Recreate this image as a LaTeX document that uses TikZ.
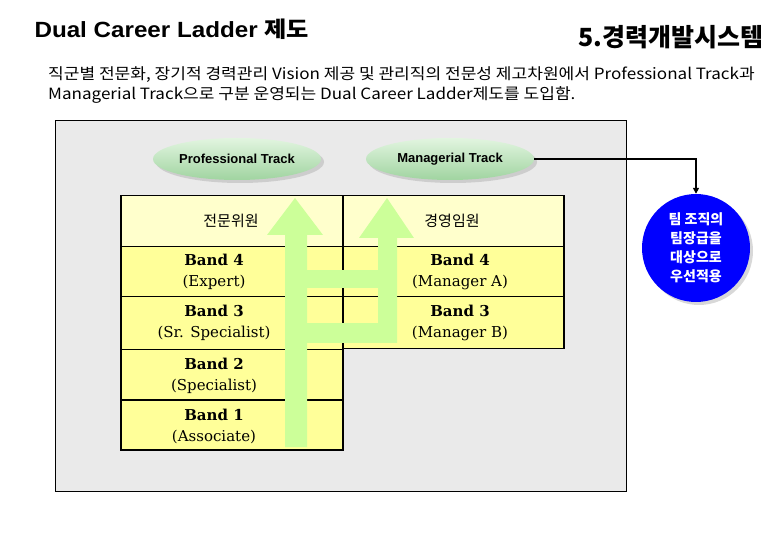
\documentclass[tikz,border=0pt]{standalone}
\usepackage{fontspec}
\setmainfont{DejaVu Serif}
\setsansfont{Liberation Sans}
\newfontfamily\kr{Noto Sans CJK KR}
\newfontfamily\krlarge[FakeStretch=1.1]{Noto Sans CJK KR}
\newfontfamily\titrefont[FakeStretch=1.1]{Liberation Sans}
\usetikzlibrary{shapes.geometric,shadows,arrows.meta,positioning}

\definecolor{fondgris}{RGB}{234,234,234}
\definecolor{jauneclair}{RGB}{255,255,204}
\definecolor{jaune}{RGB}{255,255,153}
\definecolor{vertfleche}{RGB}{204,255,153}
\definecolor{vertclair}{RGB}{226,245,224}
\definecolor{vertfonce}{RGB}{160,212,160}
\definecolor{bleurond}{RGB}{0,0,255}

\begin{document}
\begin{tikzpicture}[
    x=1pt, y=-1pt,  % repère en pixels, y vers le bas
    track/.style={ellipse, minimum width=168pt, minimum height=42pt, inner sep=0pt,
        top color=vertclair, bottom color=vertfonce,
        drop shadow={shadow xshift=3pt, shadow yshift=-3pt, fill=gray!60},
        font=\sffamily\bfseries\fontsize{13}{15}\selectfont},
    entete/.style={draw, line width=1.5pt, fill=jauneclair, anchor=north west,
        inner sep=0pt, minimum height=51pt},
    bande/.style={draw, line width=1.5pt, fill=jaune, anchor=north west, inner sep=0pt},
    texte/.style={align=center, font=\fontsize{15}{21}\selectfont},
    fleche/.style={fill=vertfleche, draw=none}
]
\useasboundingbox (0,0) rectangle (780,540);

% Titres
\node[anchor=west, font=\titrefont\bfseries\fontsize{22}{24}\selectfont] (titre) at (31,29)
    {Dual Career Ladder {\krlarge 제도}};
\node[anchor=east, font=\kr\bfseries\fontsize{25}{28}\selectfont] (section) at (767,37)
    {5.경력개발시스템};
\node[anchor=north west, align=left, inner sep=0pt, font=\krlarge\fontsize{15.5}{20}\selectfont] (intro) at (48,66)
    {직군별 전문화, 장기적 경력관리 Vision 제공 및 관리직의 전문성 제고차원에서 Professional Track과\\
     Managerial Track으로 구분 운영되는 Dual Career Ladder제도를 도입함.};

% Fond
\draw[fill=fondgris, line width=0.8pt] (55,120) rectangle (626,491);

% Les deux filières
\node[track] (pt) at (237,159) {Professional Track};
\node[track] (mt) at (450,159) {Managerial Track};

% Tableau : colonne professionnelle
\node[entete, minimum width=222pt] (tete-p) at (120,195) {};
\node[bande, minimum width=222pt, minimum height=50pt] (p4) at (120,246) {};
\node[bande, minimum width=222pt, minimum height=53pt] (p3) at (120,296) {};
\node[bande, minimum width=222pt, minimum height=50pt] (p2) at (120,349) {};
\node[bande, minimum width=222pt, minimum height=50pt] (p1) at (120,399) {};
% colonne managériale
\node[entete, minimum width=221pt] (tete-m) at (342,195) {};
\node[bande, minimum width=221pt, minimum height=50pt] (m4) at (342,246) {};
\node[bande, minimum width=221pt, minimum height=52pt] (m3) at (342,296) {};

% Flèches vertes
\fill[fleche] (285,447) -- (285,235) -- (267,235) -- (295,198) -- (323,235)
    -- (307,235) -- (307,447) -- cycle;
\fill[fleche] (378,343) -- (378,238) -- (359,238) -- (387,198) -- (414,238)
    -- (397,238) -- (397,343) -- cycle;
\fill[fleche] (307,270) rectangle (378,288);
\fill[fleche] (307,323) rectangle (378,343);

% Textes du tableau
\node[font=\kr\fontsize{15}{18}\selectfont] (t-p) at (231,221) {전문위원};
\node[font=\kr\fontsize{15}{18}\selectfont] (t-m) at (452,221) {경영임원};
\node[texte] (b-p4) at (214,272) {\textbf{Band 4}\\(Expert)};
\node[texte] (b-p3) at (214,323) {\textbf{Band 3}\\(Sr. Specialist)};
\node[texte] (b-p2) at (214,376) {\textbf{Band 2}\\(Specialist)};
\node[texte] (b-p1) at (214,426) {\textbf{Band 1}\\(Associate)};
\node[texte] (b-m4) at (460,272) {\textbf{Band 4}\\(Manager A)};
\node[texte] (b-m3) at (460,323) {\textbf{Band 3}\\(Manager B)};

% Cercle bleu
\node[circle, fill=bleurond, minimum size=108pt, inner sep=0pt, text=white, align=center,
    drop shadow={shadow xshift=3pt, shadow yshift=-3pt, fill=gray!60},
    font=\kr\bfseries\fontsize{14}{19}\selectfont] (cible) at (696,248)
    {팀 조직의\\팀장급을\\대상으로\\우선적용};
\draw[line width=1.5pt, -{Triangle[length=6pt, width=6pt]}] (mt.east) -| (cible.north);
\end{tikzpicture}
\end{document}
